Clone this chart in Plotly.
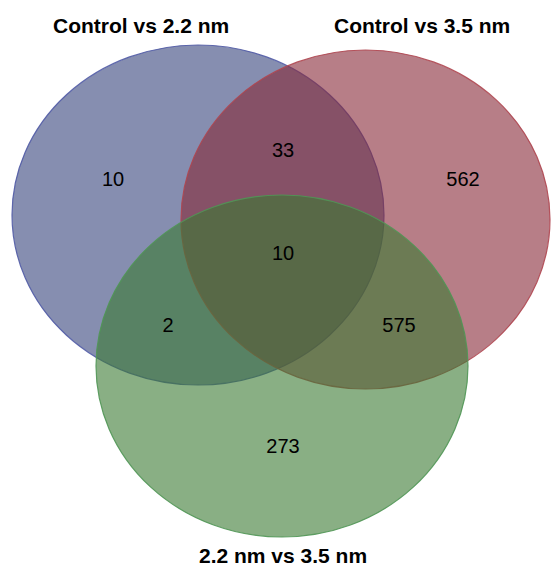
import plotly.graph_objects as go

# ---- data ----
set_names = ["Control vs 2.2 nm", "Control vs 3.5 nm", "2.2 nm vs 3.5 nm"]
region_labels = ["A only", "A∩B only", "B only", "A∩B∩C", "A∩C only", "B∩C only", "C only"]
region_counts = [10, 33, 562, 10, 2, 575, 273]

# ---- layout geometry (pixels of a 551x567 canvas) ----
W, H = 551, 567
ellipses = [  # x0, x1, y0, y1
    (12, 384, 45, 385),
    (181, 550, 50, 389),
    (96, 468, 195, 537),
]
fills = ["rgba(53,67,123,0.6)", "rgba(135,40,55,0.6)", "rgba(58,122,50,0.6)"]
lines = ["rgba(80,90,165,0.9)", "rgba(175,70,80,0.9)", "rgba(80,150,85,0.9)"]
region_xy = [(113, 181), (283, 152), (463, 181), (283, 255), (168, 327), (399, 327), (283, 448)]
title_xy = [(141, 25), (422, 25), (283, 555)]

fig = go.Figure()

for (x0, x1, y0, y1), fc, lc in zip(ellipses, fills, lines):
    fig.add_shape(type="circle", xref="x", yref="y", x0=x0, x1=x1, y0=y0, y1=y1,
                  fillcolor=fc, line=dict(color=lc, width=1.2), layer="below")

fig.add_trace(go.Scatter(
    x=[p[0] for p in region_xy], y=[p[1] for p in region_xy],
    mode="text", text=[str(v) for v in region_counts],
    textfont=dict(family="Arial, Liberation Sans, sans-serif", size=20, color="black"),
    hovertext=region_labels, hoverinfo="text", showlegend=False,
))

for name, (tx, ty) in zip(set_names, title_xy):
    fig.add_annotation(x=tx, y=ty, xref="x", yref="y", text="<b>%s</b>" % name,
                       showarrow=False,
                       font=dict(family="Arial, Liberation Sans, sans-serif", size=21, color="black"))

fig.update_xaxes(range=[0, W], visible=False, fixedrange=True)
fig.update_yaxes(range=[H, 0], visible=False, fixedrange=True)
fig.update_layout(width=W, height=H, autosize=False,
                  margin=dict(l=0, r=0, t=0, b=0),
                  paper_bgcolor="white", plot_bgcolor="white")

fig.write_html("out.html", config={"displayModeBar": False},
               post_script="document.body.style.margin='0px';")
